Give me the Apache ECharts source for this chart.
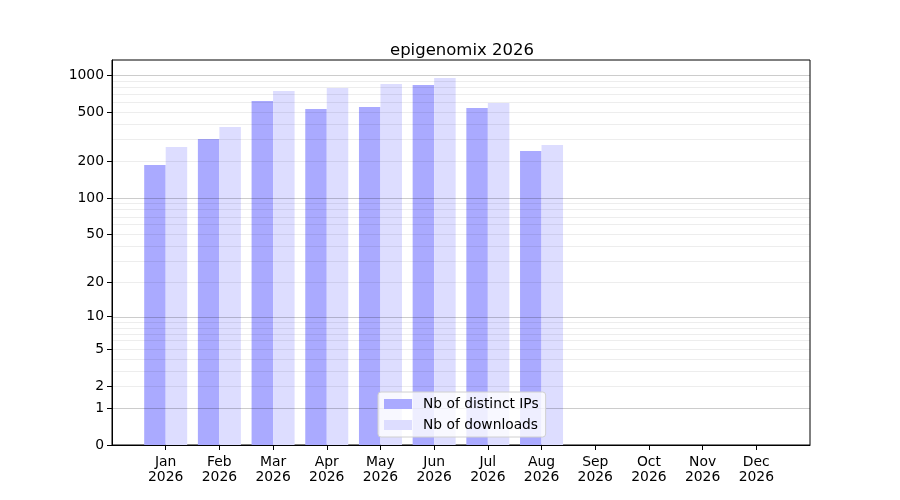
<!DOCTYPE html>
<html>
<head>
<meta charset="utf-8">
<script src="https://cdn.jsdelivr.net/npm/echarts@6/dist/echarts.min.js"></script>
<style>
  html, body { margin: 0; padding: 0; background: #fff; }
  #chart { width: 900px; height: 500px; }
</style>
</head>
<body>
<div id="chart"></div>
<script>
// values
var months = ['Jan', 'Feb', 'Mar', 'Apr', 'May', 'Jun', 'Jul', 'Aug', 'Sep', 'Oct', 'Nov', 'Dec'];
var year = '2026';
var distinctIps = [186, 304, 619, 533, 553, 835, 543, 242];
var downloads = [261, 380, 746, 789, 850, 951, 596, 271];
var yTicks = [0, 1, 2, 5, 10, 20, 50, 100, 200, 500, 1000];
var majorGrid = [1, 10, 100, 1000];
var minorGrid = [2, 3, 4, 5, 6, 7, 8, 9, 20, 30, 40, 50, 60, 70, 80, 90, 200, 300, 400, 500, 600, 700, 800, 900];
var yTop = 1333;

// the y scale of the picture is log10(1 + v)
function tf(v) { return Math.log10(1 + v); }

var font = 'DejaVu Sans';

var gridLines = [];
majorGrid.forEach(function(v) {
  gridLines.push({ yAxis: tf(v), lineStyle: { color: 'rgba(0,0,0,0.2)', width: 1, type: 'solid' } });
});
minorGrid.forEach(function(v) {
  gridLines.push({ yAxis: tf(v), lineStyle: { color: 'rgba(0,0,0,0.07)', width: 1, type: 'solid' } });
});

var chart = echarts.init(document.getElementById('chart'), null, { renderer: 'canvas' });

chart.setOption({
  animation: false,
  title: {
    text: 'epigenomix ' + year,
    left: 457,
    textAlign: 'center',
    top: 37,
    textStyle: { fontFamily: font, fontSize: 16.5, fontWeight: 'normal', color: '#000' }
  },
  legend: {
    data: ['Nb of distinct IPs', 'Nb of downloads'],
    orient: 'vertical',
    left: 378,
    top: 392,
    z: 10,
    padding: [5, 7, 5, 6],
    itemGap: 7,
    itemWidth: 28,
    itemHeight: 10,
    backgroundColor: 'rgba(255,255,255,0.8)',
    borderColor: '#d0d0d0',
    borderWidth: 1,
    borderRadius: 3,
    icon: 'rect',
    textStyle: { fontFamily: font, fontSize: 13.8, color: '#000', padding: [0, 0, 0, 6] }
  },
  grid: {
    left: 112,
    right: 90,
    top: 60,
    bottom: 55,
    show: true,
    borderColor: '#000',
    borderWidth: 1
  },
  xAxis: {
    type: 'value',
    min: -1,
    max: 12,
    axisLine: { show: true, onZero: false, lineStyle: { color: '#000' } },
    axisTick: {
      show: true,
      length: 5,
      lineStyle: { color: '#000' },
      customValues: months.map(function(m, i) { return i; })
    },
    axisLabel: {
      customValues: months.map(function(m, i) { return i; }),
      formatter: function(v) { return months[v] + '\n' + year; },
      fontFamily: font,
      fontSize: 13.9,
      lineHeight: 15,
      color: '#000',
      margin: 10
    },
    splitLine: { show: false }
  },
  yAxis: {
    type: 'value',
    min: 0,
    max: tf(yTop),
    axisLine: { show: true, onZero: false, lineStyle: { color: '#000' } },
    axisTick: {
      show: true,
      length: 5,
      lineStyle: { color: '#000' },
      customValues: yTicks.map(tf)
    },
    axisLabel: {
      customValues: yTicks.map(tf),
      formatter: function(v) { return String(Math.round(Math.pow(10, v) - 1)); },
      fontFamily: font,
      fontSize: 13.9,
      color: '#000',
      margin: 8
    },
    splitLine: { show: false }
  },
  series: [
    {
      name: 'Nb of distinct IPs',
      type: 'bar',
      barWidth: 21.5,
      barGap: '0%',
      itemStyle: { color: '#aaaaff' },
      data: distinctIps.map(function(v, i) { return [i, tf(v)]; })
    },
    {
      name: 'Nb of downloads',
      type: 'bar',
      barWidth: 21.5,
      barGap: '0%',
      itemStyle: { color: '#ddddff' },
      data: downloads.map(function(v, i) { return [i, tf(v)]; })
    },
    {
      name: 'grid',
      type: 'line',
      z: 5,
      data: [],
      silent: true,
      markLine: {
        silent: true,
        symbol: ['none', 'none'],
        label: { show: false },
        data: gridLines
      }
    }
  ]
});
</script>
</body>
</html>
